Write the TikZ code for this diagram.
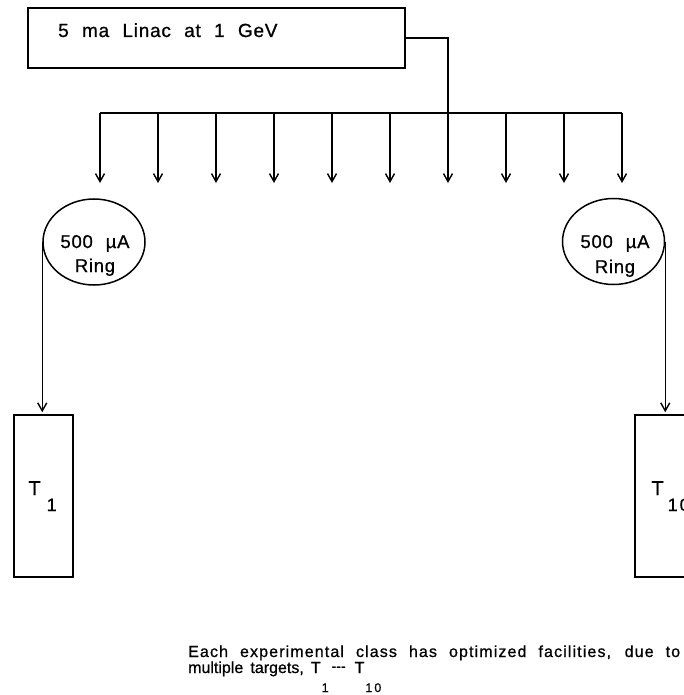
\documentclass[tikz,border=0pt]{standalone}
\usepackage{fontspec}
\setmainfont{Liberation Sans}[WordSpace=1.6,FakeBold=0.8]
\newfontfamily\widefont{Liberation Sans}[WordSpace=3.5,LetterSpace=4,FakeBold=0.8]
\newfontfamily\ringfont{Liberation Sans}[WordSpace=2.2,LetterSpace=4,FakeBold=0.8]
\newfontfamily\notefont{Liberation Sans}[LetterSpace=7,FakeBold=0.8]
\usetikzlibrary{positioning,shapes.geometric,arrows.meta}

\begin{document}
\begin{tikzpicture}
[
  x=1pt,y=-1pt,
  box/.style={rectangle,draw=black,line width=1.5pt,inner sep=0pt},
  ring/.style={ellipse,draw=black,line width=1.5pt,minimum width=102pt,minimum height=86pt,inner sep=0pt},
  wire/.style={draw=black,line width=1.5pt},
  feed/.style={wire,-{Straight Barb[length=8pt,width=9pt,line width=1.4pt]}},
  lbl/.style={font=\widefont\fontsize{19}{19}\selectfont,inner sep=0pt},
  rlbl/.style={font=\ringfont\fontsize{18.5}{18.5}\selectfont,inner sep=0pt,anchor=base},
  tlbl/.style={font=\fontsize{20}{20}\selectfont,inner sep=0pt,anchor=base west},
  note/.style={font=\fontsize{16}{16}\selectfont,inner sep=0pt},
]
\clip (0,0) rectangle (684,695);

\node[box,minimum width=377pt,minimum height=60pt] (linac) at (216.5,38){};
\node[lbl,anchor=base west] (linactxt) at (58,37) {5 ma Linac at 1 GeV};

\foreach \i in {1,...,10} {
  \coordinate (tap\i) at ({100+58*(\i-1)},113);
  \coordinate (end\i) at ({100+58*(\i-1)},183);
  \draw[feed] (tap\i) -- (end\i);
}
\draw[wire] (tap1) -- (tap10);
\draw[wire] (linac.east) -| (tap7);

\node[ring] (ringL) at (94,242){};
\node[rlbl] (ringLa) at (95,248) {500 µA};
\node[rlbl] (ringLb) at (95,272) {Ring};
\node[ring] (ringR) at (613.5,241.5){};
\node[rlbl] (ringRa) at (615,248) {500 µA};
\node[rlbl] (ringRb) at (615,273) {Ring};

\node[box,minimum width=59pt,minimum height=162pt] (tgtL) at (43.5,496){};
\node[box,minimum width=59pt,minimum height=162pt] (tgtR) at (664.5,496){};
\node[tlbl] (tgtLtxt) at ([xshift=15pt]tgtL.west |- 0,495) {T\hspace{6pt}\raisebox{-16pt}{\fontsize{18}{18}\selectfont 1}};
\node[tlbl] (tgtRtxt) at ([xshift=17pt]tgtR.west |- 0,495) {T\hspace{4pt}\raisebox{-16pt}{\fontsize{18}{18}\selectfont 1\hspace{2pt}0}};

\draw[feed,shorten >=2pt] (ringL.west) -- (ringL.west |- tgtL.north);
\draw[feed,shorten >=2pt] (ringR.east) -- (ringR.east |- tgtR.north);

\node[note,anchor=base west,text depth=0pt] (note1) at (188,657) {\notefont\makebox[492pt][s]{Each experimental class has optimized facilities, due to}};
\node[note,anchor=base west,text height=10pt] (note2) at ([yshift=-16pt]note1.base west) {multiple targets, T\hspace{1pt}\raisebox{-19pt}{\fontsize{12.5}{12.5}\selectfont 1}\hspace{3pt}\raisebox{2pt}{\fontsize{14}{14}\selectfont{-}{-}{-}}\hspace{9pt}T\hspace{1pt}\raisebox{-19pt}{\fontsize{12.5}{12.5}\selectfont 1\hspace{2pt}0}};
\end{tikzpicture}
\end{document}
